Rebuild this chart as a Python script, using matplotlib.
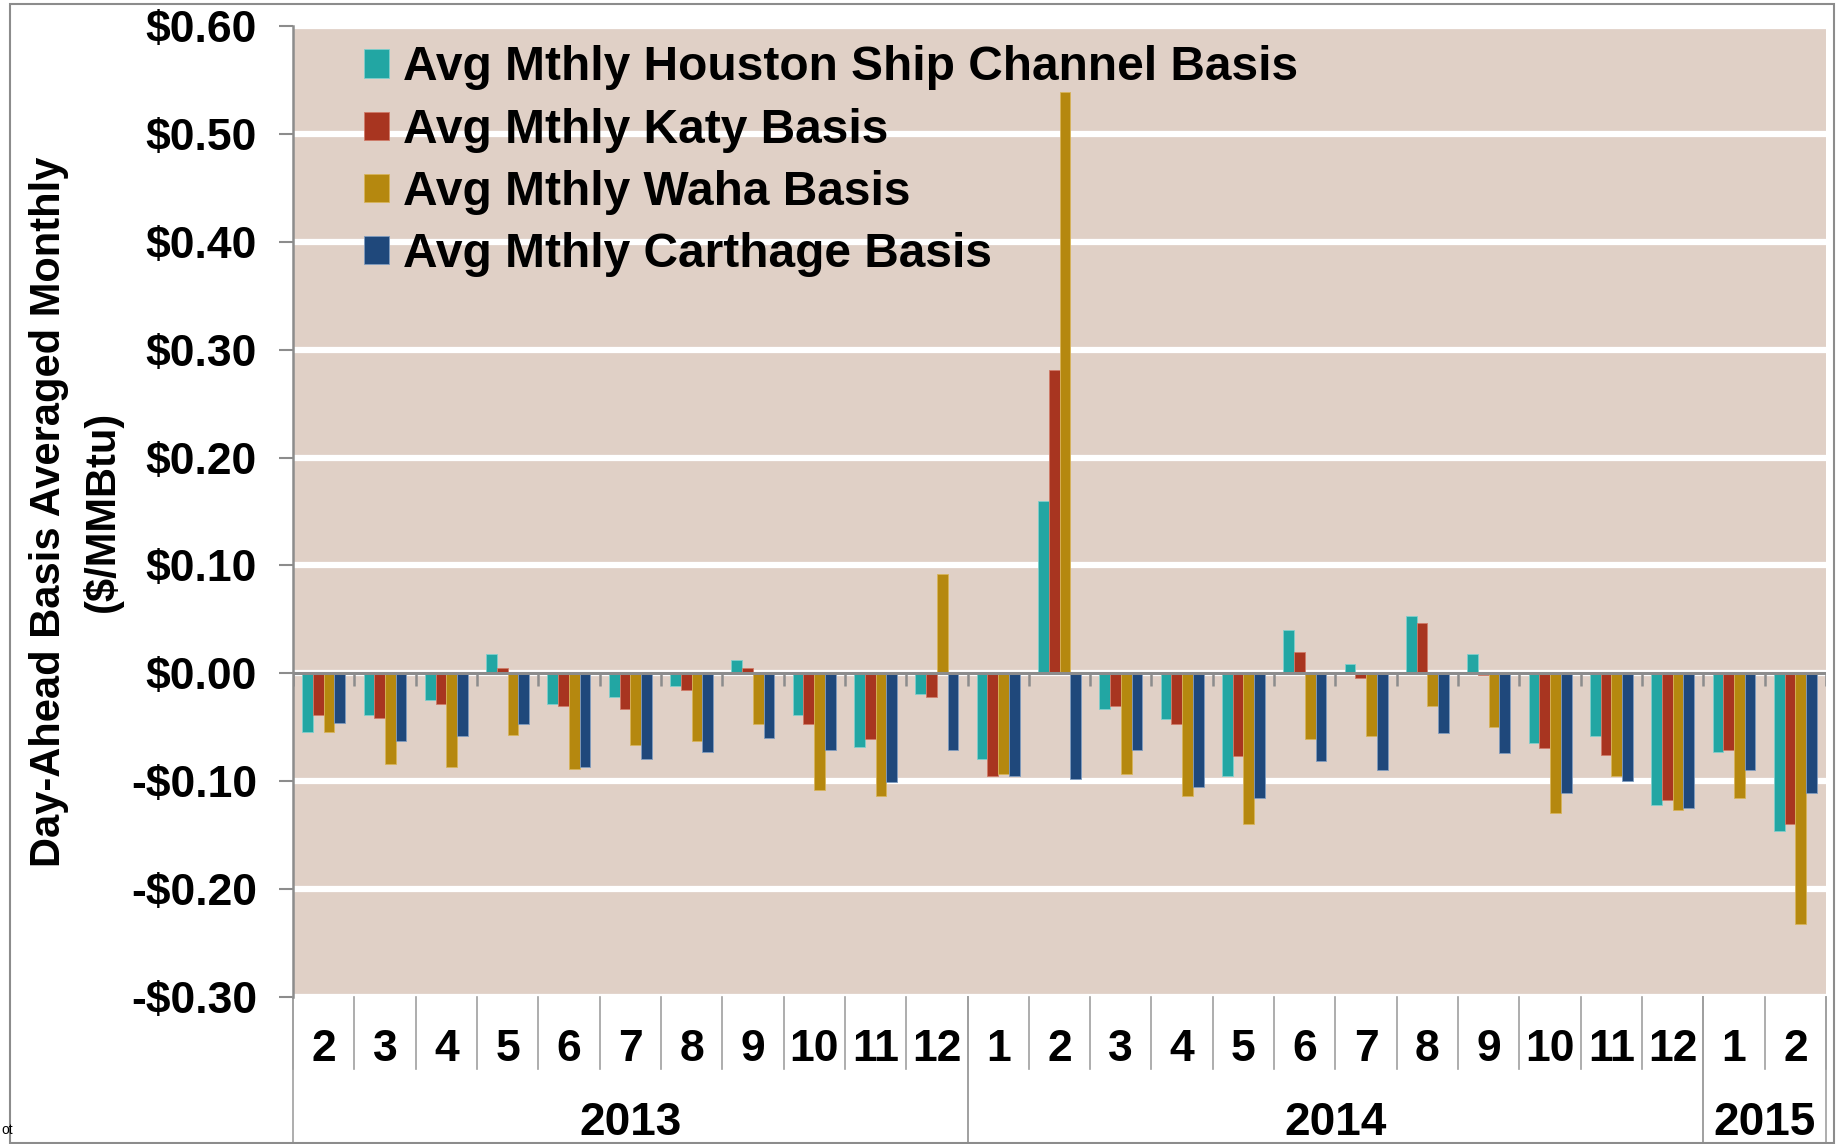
import numpy as np
import matplotlib
matplotlib.use("Agg")
import matplotlib.pyplot as plt
from matplotlib.patches import Rectangle
from matplotlib.lines import Line2D

plt.rcParams['font.family'] = ['Liberation Sans', 'DejaVu Sans']
plt.rcParams['font.weight'] = 'bold'

# month labels and year groups
months = ["2", "3", "4", "5", "6", "7", "8", "9", "10", "11", "12",
          "1", "2", "3", "4", "5", "6", "7", "8", "9", "10", "11", "12",
          "1", "2"]
years = ["2013", "2014", "2015"]
year_counts = [11, 12, 2]

# avg monthly basis ($/MMBtu)
houston = [-0.054, -0.039, -0.025, 0.018, -0.028, -0.022, -0.012, 0.012, -0.039, -0.068, -0.019,
           -0.079, 0.160, -0.033, -0.042, -0.095, 0.040, 0.009, 0.053, 0.018, -0.065, -0.058, -0.122,
           -0.073, -0.146]
katy = [-0.039, -0.041, -0.028, 0.005, -0.030, -0.033, -0.015, 0.005, -0.047, -0.061, -0.022,
        -0.095, 0.281, -0.030, -0.047, -0.077, 0.020, -0.004, 0.047, -0.002, -0.069, -0.076, -0.117,
        -0.071, -0.140]
waha = [-0.054, -0.084, -0.087, -0.057, -0.089, -0.066, -0.063, -0.047, -0.108, -0.114, 0.092,
        -0.093, 0.539, -0.093, -0.114, -0.140, -0.061, -0.058, -0.030, -0.050, -0.129, -0.095, -0.127,
        -0.116, -0.232]
carthage = [-0.046, -0.063, -0.058, -0.047, -0.087, -0.079, -0.073, -0.060, -0.071, -0.101, -0.071,
            -0.095, -0.098, -0.071, -0.105, -0.116, -0.081, -0.090, -0.055, -0.074, -0.111, -0.100, -0.125,
            -0.090, -0.111]

series_names = ["Avg Mthly Houston Ship Channel Basis", "Avg Mthly Katy Basis",
                "Avg Mthly Waha Basis", "Avg Mthly Carthage Basis"]
colors = ["#22a6a3", "#a83520", "#b5880f", "#1f487b"]
edge_colors = ["#7fcfcc", "#d07a68", "#d8b45a", "#7f9cc0"]

W, H = 1839, 1144
fig = plt.figure(figsize=(W / 100, H / 100), dpi=100)
ax = fig.add_axes([293 / W, 147 / H, (1826 - 293) / W, (997 - 26) / H])

x = np.arange(len(months))
bw = 0.175
all_series = [houston, katy, waha, carthage]
for i, vals in enumerate(all_series):
    ax.bar(x + (i - 1.5) * bw, vals, bw, color=colors[i], edgecolor=edge_colors[i],
           linewidth=0.6, label=series_names[i], zorder=3)

ax.set_facecolor("#e0d0c6")
ax.set_xlim(-0.5, len(months) - 0.5)
ax.set_ylim(-0.3, 0.6)
yt = np.arange(-0.3, 0.61, 0.1)
ax.set_yticks(yt)
ax.set_yticklabels([("-$%.2f" % abs(v)) if v < -0.001 else "$%.2f" % abs(v) for v in yt],
                   fontsize=32, fontweight='bold')
ax.tick_params(axis='y', length=10, width=1.5, color='#8c8c8c', pad=16)
ax.set_xticks([])
ax.grid(axis='y', color='white', linewidth=4.5, zorder=1)
ax.set_axisbelow(True)
for s in ['top', 'right', 'bottom']:
    ax.spines[s].set_visible(False)
ax.spines['left'].set_color('#8c8c8c')
ax.spines['left'].set_linewidth(1.8)
ax.axhline(0, color='#8c8c8c', linewidth=2.2, zorder=4)

# short category ticks below the zero line
bounds = np.arange(len(months) + 1) - 0.5
ax.vlines(bounds, -0.012, 0, color='#8c8c8c', linewidth=1.8, zorder=4)

ax.set_ylabel("Day-Ahead Basis Averaged Monthly\n($/MMBtu)", fontsize=30, fontweight='bold',
              linespacing=1.4)
ax.yaxis.set_label_coords(-0.111, 0.5)

# category table under the axes
trans = ax.get_xaxis_transform()
for b in bounds:
    ax.add_line(Line2D([b, b], [0, -0.0742], transform=trans, color='#a0a0a0',
                       linewidth=1.2, clip_on=False))
for m, lab in zip(x, months):
    ax.text(m, -0.0536, lab, transform=trans, ha='center', va='center',
            fontsize=32, fontweight='bold', clip_on=False)
start = -0.5
for yr, n in zip(years, year_counts):
    for b in (start, start + n):
        ax.add_line(Line2D([b, b], [0, -0.149], transform=trans, color='#a0a0a0',
                           linewidth=1.2, clip_on=False))
    ax.text(start + n / 2, -0.130, yr, transform=trans, ha='center', va='center',
            fontsize=33, fontweight='bold', clip_on=False)
    start += n

leg = ax.legend(loc='upper left', bbox_to_anchor=(0.026, 1.012), frameon=False,
                fontsize=34.5, handlelength=0.53, handleheight=0.53, handletextpad=0.28,
                labelspacing=0.36, borderaxespad=0.25)
for t in leg.get_texts():
    t.set_fontweight('bold')

# outer frame
fig.add_artist(Rectangle((10 / W, 1 / H), (1834 - 10) / W, (1140 - 1) / H,
                         transform=fig.transFigure, fill=False, edgecolor='#8c8c8c',
                         linewidth=1.5))
fig.text(1 / W, 1 - 1130 / H, "ot", ha='left', va='center', fontsize=10,
         fontweight='normal')

fig.savefig("out.png", dpi=100)
